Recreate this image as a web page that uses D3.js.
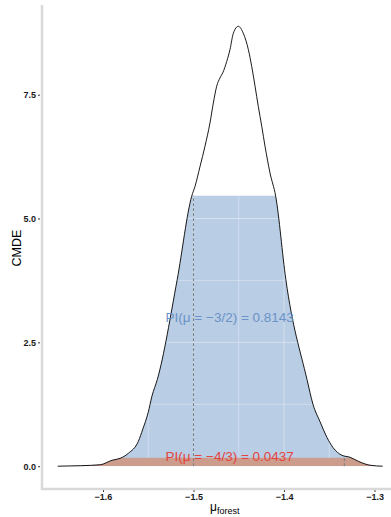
<!DOCTYPE html>
<meta charset="utf-8">
<style>
  body { margin: 0; background: #fff; }
  .tick text { font-family: "Liberation Sans", Arial, sans-serif; font-weight: bold; font-size: 9px; fill: #1a1a1a; }
  .tick line { stroke: #333; }
  .label { font-family: "Liberation Sans", Arial, sans-serif; }
</style>
<body>
<script src="https://cdn.jsdelivr.net/npm/d3@7"></script>
<script>

// density curve
var muValues = [-1.650, -1.625, -1.603, -1.590, -1.581, -1.572, -1.561, -1.556, -1.550, -1.546,
                -1.540, -1.518, -1.502, -1.4983, -1.4928, -1.4873, -1.4818, -1.4781, -1.4744, -1.4707,
                -1.4677, -1.4633, -1.4597, -1.456, -1.4505, -1.445, -1.4394, -1.4357, -1.432, -1.4284,
                -1.4246, -1.421, -1.4155, -1.4092, -1.398, -1.3746, -1.368, -1.360, -1.3525, -1.346,
                -1.336, -1.327, -1.318, -1.305, -1.291];
var cmde = [0, 0.01, 0.03, 0.12, 0.16, 0.26, 0.50, 0.75, 1.09, 1.41,
            1.75, 3.77, 5.45, 5.65, 6.05, 6.46, 6.93, 7.33, 7.67, 7.84,
            7.94, 8.17, 8.41, 8.74, 8.88, 8.74, 8.41, 8.07, 7.67, 7.26,
            6.86, 6.46, 5.92, 5.45, 3.77, 1.75, 1.25, 0.89, 0.58, 0.38,
            0.22, 0.18, 0.10, 0.02, 0];

var xTicks = [-1.6, -1.5, -1.4, -1.3];
var xMinor = [-1.65, -1.55, -1.45, -1.35];
var yTicks = [0, 2.5, 5, 7.5];
var yMinor = [1.25, 3.75, 6.25, 8.75];

// the two level sets and their labels
var levels = [5.46, 0.17];
var markers = [-1.5, -4 / 3];
var piLabels = ["PI(\u03bc = \u22123/2) = 0.8143", "PI(\u03bc = \u22124/3) = 0.0437"];
var labelX = [-1.46, -1.46];
var labelY = [3.0, 0.21];

var width = 391, height = 517;

var data = muValues.map(function(m, i) { return {x: m, y: cmde[i]}; });

var x = d3.scaleLinear().domain([-1.6674, -1.2818]).range([42, 391]);
var y = d3.scaleLinear().domain([-0.44, 9.31]).range([488, 5]);

var svg = d3.select("body").append("svg")
    .attr("width", width)
    .attr("height", height);

var area = d3.area()
    .x(function(d) { return x(d.x); })
    .y0(y(0))
    .y1(function(d) { return y(d.y); })
    .curve(d3.curveMonotoneX);

var line = d3.line()
    .x(function(d) { return x(d.x); })
    .y(function(d) { return y(d.y); })
    .curve(d3.curveMonotoneX);

svg.append("clipPath")
    .attr("id", "under")
  .append("path")
    .datum(data)
    .attr("d", area);

var filled = svg.append("g").attr("clip-path", "url(#under)");

// blue HPD band
filled.append("rect")
    .attr("x", x.range()[0])
    .attr("width", x.range()[1] - x.range()[0])
    .attr("y", y(levels[0]))
    .attr("height", y(0) - y(levels[0]))
    .attr("fill", "#b9cde5");

// faint grid showing through the fill
var grid = filled.append("g")
    .attr("stroke", "#fff")
    .attr("stroke-opacity", 0.4);

grid.selectAll(".vx")
    .data(xTicks.concat(xMinor))
    .enter().append("line")
    .attr("x1", function(d) { return x(d); })
    .attr("x2", function(d) { return x(d); })
    .attr("y1", y.range()[1])
    .attr("y2", y.range()[0])
    .attr("stroke-width", function(d, i) { return i < xTicks.length ? 1 : 0.8; });

grid.selectAll(".hy")
    .data(yTicks.concat(yMinor))
    .enter().append("line")
    .attr("x1", x.range()[0])
    .attr("x2", x.range()[1])
    .attr("y1", function(d) { return y(d); })
    .attr("y2", function(d) { return y(d); })
    .attr("stroke-width", function(d, i) { return i < yTicks.length ? 1 : 0.8; });

// red band
filled.append("rect")
    .attr("x", x.range()[0])
    .attr("width", x.range()[1] - x.range()[0])
    .attr("y", y(levels[1]))
    .attr("height", y(0) - y(levels[1]))
    .attr("fill", "#cc9c8d");

// dashed markers
svg.selectAll(".marker")
    .data(markers)
    .enter().append("line")
    .attr("x1", function(d) { return x(d); })
    .attr("x2", function(d) { return x(d); })
    .attr("y1", y(0))
    .attr("y2", function(d, i) { return y(levels[i]); })
    .attr("stroke", "#7a7f80")
    .attr("stroke-width", 1)
    .attr("stroke-dasharray", "3,2");

svg.append("path")
    .datum(data)
    .attr("d", line)
    .attr("fill", "none")
    .attr("stroke", "#000")
    .attr("stroke-width", 0.9);

// annotations
svg.selectAll(".pi")
    .data(piLabels)
    .enter().append("text")
    .attr("class", "label")
    .attr("x", function(d, i) { return x(labelX[i]); })
    .attr("y", function(d, i) { return y(labelY[i]); })
    .attr("dy", "0.36em")
    .attr("text-anchor", "middle")
    .attr("font-size", "13.5px")
    .attr("fill", function(d, i) { return i === 0 ? "#6b93c7" : "#e5433d"; })
    .text(function(d) { return d; });

// axes
var fmt = d3.format(".1f");

svg.append("g")
    .attr("transform", "translate(40,0)")
    .call(d3.axisLeft(y).tickValues(yTicks).tickFormat(fmt).tickSize(2).tickPadding(2))
    .call(function(g) { g.select(".domain").remove(); });

svg.append("g")
    .attr("transform", "translate(0,490)")
    .call(d3.axisBottom(x).tickValues(xTicks).tickFormat(fmt).tickSize(2).tickPadding(2))
    .call(function(g) { g.select(".domain").remove(); });

svg.append("line")
    .attr("x1", 42).attr("x2", 42)
    .attr("y1", 5).attr("y2", 490)
    .attr("stroke", "#d9d9d9")
    .attr("stroke-width", 2.5);

svg.append("line")
    .attr("x1", 41).attr("x2", 391)
    .attr("y1", 489).attr("y2", 489)
    .attr("stroke", "#d9d9d9")
    .attr("stroke-width", 2.5);

// axis titles
svg.append("text")
    .attr("class", "label")
    .attr("transform", "translate(21,248) rotate(-90)")
    .attr("text-anchor", "middle")
    .attr("font-size", "12.5px")
    .attr("fill", "#000")
    .text("CMDE");

var xt = svg.append("text")
    .attr("class", "label")
    .attr("x", 210)
    .attr("y", 511)
    .attr("fill", "#000");
xt.append("tspan").attr("font-size", "12px").text("\u03bc");
xt.append("tspan").attr("font-size", "9px").attr("dy", 2.5).text("forest");

</script>
</body>
